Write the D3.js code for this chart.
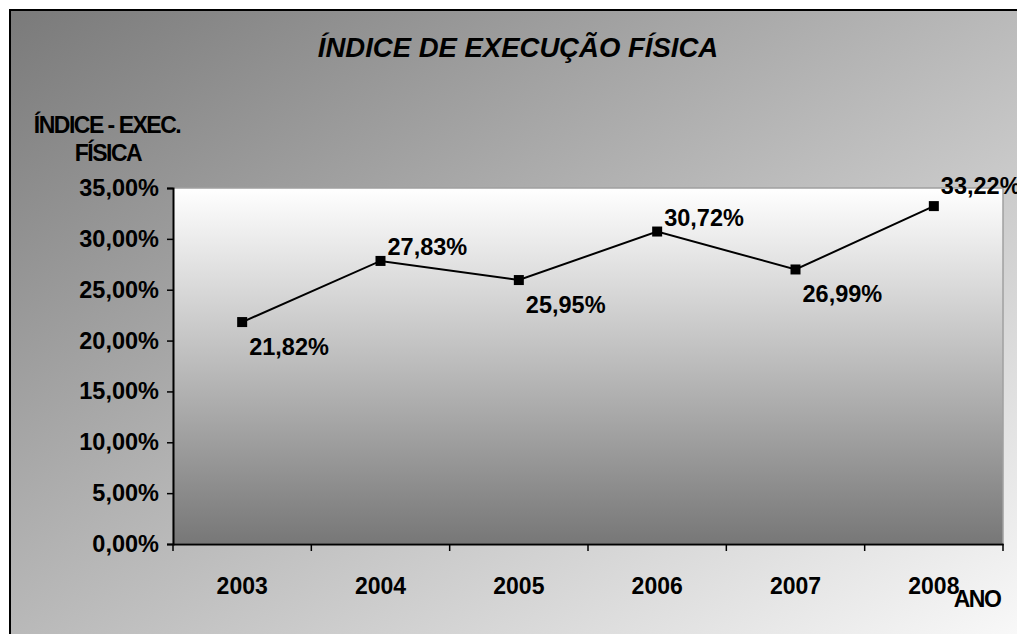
<!DOCTYPE html>
<html>
<head>
<meta charset="utf-8">
<script src="https://cdn.jsdelivr.net/npm/d3@7"></script>
<style>
  body { margin: 0; background: #fff; }
  text { font-family: "Liberation Sans", Arial, sans-serif; font-weight: bold; fill: #000; }
</style>
</head>
<body>
<div id="main"></div>
<script>
// dataset
const years = ['2003', '2004', '2005', '2006', '2007', '2008'];
const values = [21.82, 27.83, 25.95, 30.72, 26.99, 33.22];
const labelSide = ['below', 'above', 'below', 'above', 'below', 'above'];
const yTicks = [0, 5, 10, 15, 20, 25, 30, 35];

const W = 1017, H = 634;
const plot = { left: 173, top: 188, right: 1003, bottom: 544 };

const svg = d3.select('#main').append('svg')
  .attr('width', W)
  .attr('height', H);

const defs = svg.append('defs');
const outerGrad = defs.append('linearGradient')
  .attr('id', 'outerGrad')
  .attr('x1', '0').attr('y1', '0').attr('x2', '1').attr('y2', '1');
outerGrad.append('stop').attr('offset', '0%').attr('stop-color', '#7a7a7a');
outerGrad.append('stop').attr('offset', '100%').attr('stop-color', '#fdfdfd');

const plotGrad = defs.append('linearGradient')
  .attr('id', 'plotGrad')
  .attr('x1', '0').attr('y1', '0').attr('x2', '0').attr('y2', '1');
plotGrad.append('stop').attr('offset', '0%').attr('stop-color', '#ffffff');
plotGrad.append('stop').attr('offset', '100%').attr('stop-color', '#777777');

// chart area
svg.append('rect')
  .attr('x', 10).attr('y', 10)
  .attr('width', W + 20).attr('height', H + 20)
  .attr('fill', 'url(#outerGrad)')
  .attr('stroke', '#000')
  .attr('stroke-width', 2);

// plot area
svg.append('rect')
  .attr('x', plot.left).attr('y', plot.top)
  .attr('width', plot.right - plot.left).attr('height', plot.bottom - plot.top)
  .attr('fill', 'url(#plotGrad)')
  .attr('stroke', '#a0a0a0')
  .attr('stroke-width', 1.5);

const xScale = d3.scaleBand()
  .domain(years)
  .range([plot.left, plot.right]);

const yScale = d3.scaleLinear()
  .domain([0, 35])
  .range([plot.bottom, plot.top]);

const fmt = d => d3.format('.2f')(d).replace('.', ',') + '%';

// y axis
const yAxis = svg.append('g')
  .attr('transform', `translate(${plot.left},0)`)
  .call(d3.axisLeft(yScale)
    .tickValues(yTicks)
    .tickSize(6)
    .tickPadding(8)
    .tickFormat(fmt));
yAxis.select('.domain').attr('stroke', '#000').attr('stroke-width', 2);
yAxis.selectAll('.tick line').attr('stroke', '#000').attr('stroke-width', 1.5);
yAxis.selectAll('.tick text')
  .attr('font-size', 23.5)
  .attr('font-family', '"Liberation Sans", Arial, sans-serif')
  .attr('font-weight', 'bold')
  .attr('fill', '#000');

// x axis
const xAxis = svg.append('g')
  .attr('transform', `translate(0,${plot.bottom})`)
  .call(d3.axisBottom(xScale).tickSize(0).tickPadding(34));
xAxis.select('.domain').attr('stroke', '#000').attr('stroke-width', 2);
xAxis.selectAll('.tick text')
  .attr('font-size', 23)
  .attr('font-family', '"Liberation Sans", Arial, sans-serif')
  .attr('font-weight', 'bold')
  .attr('fill', '#000');

// band boundary ticks
xAxis.selectAll('.bound')
  .data(years.concat(['end']))
  .enter().append('line')
  .attr('x1', (d, i) => plot.left + i * xScale.bandwidth())
  .attr('x2', (d, i) => plot.left + i * xScale.bandwidth())
  .attr('y1', 0).attr('y2', 7)
  .attr('stroke', '#000').attr('stroke-width', 1.5);

// line
const cx = d => xScale(d) + xScale.bandwidth() / 2;
const line = d3.line()
  .x((d, i) => cx(years[i]))
  .y(d => yScale(d));

svg.append('path')
  .datum(values)
  .attr('d', line)
  .attr('fill', 'none')
  .attr('stroke', '#000')
  .attr('stroke-width', 2);

svg.selectAll('.marker')
  .data(values)
  .enter().append('rect')
  .attr('x', (d, i) => cx(years[i]) - 5)
  .attr('y', d => yScale(d) - 5)
  .attr('width', 10).attr('height', 10)
  .attr('fill', '#000');

// data labels
svg.selectAll('.value')
  .data(values)
  .enter().append('text')
  .attr('x', (d, i) => cx(years[i]) + 7)
  .attr('y', (d, i) => yScale(d) + (labelSide[i] === 'above' ? (i === 5 ? -12 : -6) : 33))
  .attr('font-size', 23.5)
  .text(fmt);

// titles
svg.append('text')
  .attr('x', 518).attr('y', 57)
  .attr('text-anchor', 'middle')
  .attr('font-size', 27.5)
  .attr('font-style', 'italic')
  .text('ÍNDICE DE EXECUÇÃO FÍSICA');

svg.append('text')
  .attr('x', 107).attr('y', 133)
  .attr('text-anchor', 'middle')
  .attr('font-size', 23)
  .attr('letter-spacing', -1.5)
  .text('ÍNDICE - EXEC.');

svg.append('text')
  .attr('x', 108).attr('y', 161)
  .attr('text-anchor', 'middle')
  .attr('font-size', 23)
  .attr('letter-spacing', -1.5)
  .text('FÍSICA');

svg.append('text')
  .attr('x', 977).attr('y', 607)
  .attr('text-anchor', 'middle')
  .attr('font-size', 23)
  .attr('letter-spacing', -1.5)
  .text('ANO');
</script>
</body>
</html>
